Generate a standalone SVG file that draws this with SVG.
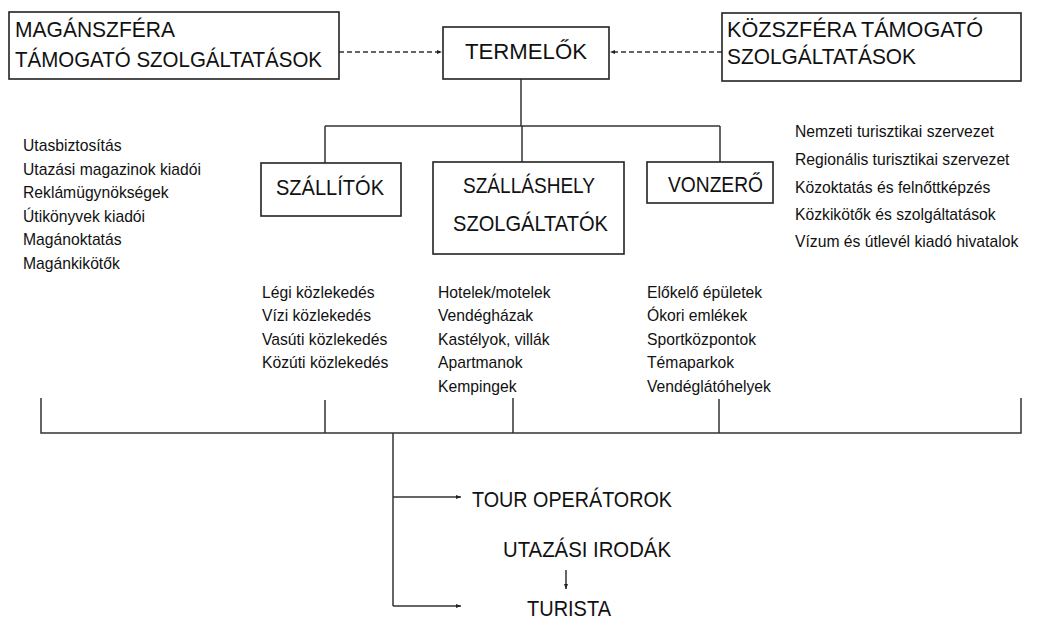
<svg xmlns="http://www.w3.org/2000/svg" width="1038" height="619" viewBox="0 0 1038 619">
<style>
.box{fill:#fff;stroke:#222;stroke-width:1.6}
.h{font-family:"Liberation Sans",Arial,sans-serif;font-size:22px;fill:#111}
.l{font-family:"Liberation Sans",Arial,sans-serif;font-size:15.7px;fill:#111}
.ln{stroke:#333;stroke-width:1.5;fill:none}
.dash{stroke:#333;stroke-width:1.4;stroke-dasharray:5,3;fill:none}
</style>
<defs>
<marker id="ahs" markerWidth="6" markerHeight="6" refX="5" refY="3" orient="auto" markerUnits="userSpaceOnUse">
<path d="M0,1 L5,3 L0,5 Z" fill="#222"/>
</marker>
</defs>
<rect width="1038" height="619" fill="#fff"/>
<g id="connectors">
<path class="dash" d="M339,52 H442" marker-end="url(#ahs)"/>
<path class="dash" d="M722,52 H610" marker-end="url(#ahs)"/>
<path class="ln" d="M521,79 V126"/>
<path class="ln" d="M325,126 H720"/>
<path class="ln" d="M325,126 V163"/>
<path class="ln" d="M522,126 V162"/>
<path class="ln" d="M720,126 V162"/>
<path class="ln" d="M41,398 V433 H1021 V398"/>
<path class="ln" d="M325,400 V433"/>
<path class="ln" d="M513,398 V433"/>
<path class="ln" d="M719,399 V433"/>
<path class="ln" d="M393,433 V606"/>
<path class="ln" d="M393,497 H461" marker-end="url(#ahs)"/>
<path class="ln" d="M393,606 H461" marker-end="url(#ahs)"/>
<path class="ln" d="M566,570 V589" marker-end="url(#ahs)"/>
</g>
<g id="maganszfera">
<rect class="box" x="9" y="12" width="330" height="67"/>
<text class="h" x="15" y="37" textLength="160" lengthAdjust="spacingAndGlyphs">MAGÁNSZFÉRA</text>
<text class="h" x="15" y="67" textLength="307" lengthAdjust="spacingAndGlyphs">TÁMOGATÓ SZOLGÁLTATÁSOK</text>
</g>
<g id="termelok">
<rect class="box" x="443" y="27" width="166" height="52"/>
<text class="h" x="465" y="59" textLength="122" lengthAdjust="spacingAndGlyphs">TERMELŐK</text>
</g>
<g id="kozszfera">
<rect class="box" x="722" y="13" width="299" height="68"/>
<text class="h" x="727" y="37" textLength="256" lengthAdjust="spacingAndGlyphs">KÖZSZFÉRA TÁMOGATÓ</text>
<text class="h" x="727" y="64" textLength="189" lengthAdjust="spacingAndGlyphs">SZOLGÁLTATÁSOK</text>
</g>
<g id="szallitok">
<rect class="box" x="261" y="163" width="140" height="53"/>
<text class="h" x="276" y="195" textLength="108" lengthAdjust="spacingAndGlyphs">SZÁLLÍTÓK</text>
</g>
<g id="szallashely">
<rect class="box" x="433" y="162" width="191" height="92"/>
<text class="h" x="463" y="193" textLength="132" lengthAdjust="spacingAndGlyphs">SZÁLLÁSHELY</text>
<text class="h" x="453" y="231" textLength="155" lengthAdjust="spacingAndGlyphs">SZOLGÁLTATÓK</text>
</g>
<g id="vonzero">
<rect class="box" x="647" y="162" width="126" height="41"/>
<text class="h" x="668" y="192" textLength="95" lengthAdjust="spacingAndGlyphs">VONZERŐ</text>
</g>
<g id="left-list">
<text class="l" x="23" y="151">Utasbiztosítás</text>
<text class="l" x="23" y="175">Utazási magazinok kiadói</text>
<text class="l" x="23" y="198">Reklámügynökségek</text>
<text class="l" x="23" y="222">Útikönyvek kiadói</text>
<text class="l" x="23" y="245">Magánoktatás</text>
<text class="l" x="23" y="269">Magánkikötők</text>
</g>
<g id="right-list">
<text class="l" x="795" y="137">Nemzeti turisztikai szervezet</text>
<text class="l" x="795" y="165">Regionális turisztikai szervezet</text>
<text class="l" x="795" y="193">Közoktatás és felnőttképzés</text>
<text class="l" x="795" y="220">Közkikötők és szolgáltatások</text>
<text class="l" x="795" y="247">Vízum és útlevél kiadó hivatalok</text>
</g>
<g id="szallitok-list">
<text class="l" x="262" y="298">Légi közlekedés</text>
<text class="l" x="262" y="321">Vízi közlekedés</text>
<text class="l" x="262" y="345">Vasúti közlekedés</text>
<text class="l" x="262" y="368">Közúti közlekedés</text>
</g>
<g id="szallashely-list">
<text class="l" x="438" y="298">Hotelek/motelek</text>
<text class="l" x="438" y="321">Vendégházak</text>
<text class="l" x="438" y="345">Kastélyok, villák</text>
<text class="l" x="438" y="368">Apartmanok</text>
<text class="l" x="438" y="392">Kempingek</text>
</g>
<g id="vonzero-list">
<text class="l" x="647" y="298">Előkelő épületek</text>
<text class="l" x="647" y="321">Ókori emlékek</text>
<text class="l" x="647" y="345">Sportközpontok</text>
<text class="l" x="647" y="368">Témaparkok</text>
<text class="l" x="647" y="392">Vendéglátóhelyek</text>
</g>
<g id="tour-operatorok">
<text class="h" x="472" y="507" textLength="200" lengthAdjust="spacingAndGlyphs">TOUR OPERÁTOROK</text>
</g>
<g id="utazasi-irodak">
<text class="h" x="503" y="557" textLength="168" lengthAdjust="spacingAndGlyphs">UTAZÁSI IRODÁK</text>
</g>
<g id="turista">
<text class="h" x="527" y="616" textLength="84" lengthAdjust="spacingAndGlyphs">TURISTA</text>
</g>
</svg>
